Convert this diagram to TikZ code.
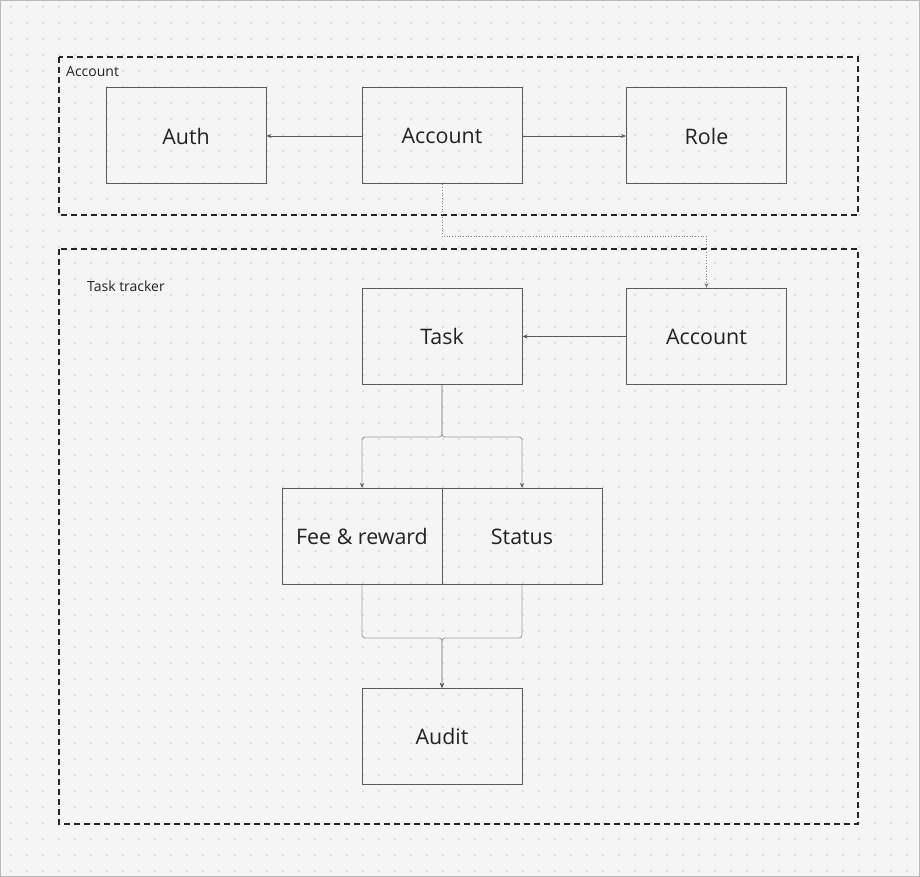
\documentclass[tikz,border=0pt]{standalone}
\usepackage{fontspec}
\setmainfont{Open Sans}
\usetikzlibrary{arrows.meta}
\definecolor{fond}{HTML}{F5F5F5}
\definecolor{point}{HTML}{D2D2D2}
\definecolor{trait}{HTML}{5A5A5A}
\definecolor{branche}{HTML}{A0A0A0}
\definecolor{texte}{HTML}{222222}
\begin{document}
\begin{tikzpicture}[x=1pt,y=-1pt,
    bloc/.style={draw=trait, line width=1pt, minimum width=160pt, minimum height=96pt, inner sep=0pt, text=texte, font=\fontsize{21.4}{25}\selectfont},
    groupe/.style={draw=black!85, line width=1.2pt, dash pattern=on 6pt off 4pt},
    legende/.style={anchor=base west, inner sep=0pt, text=texte, font=\fontsize{14}{16}\selectfont},
    fleche/.style={draw=trait, line width=0.7pt, -{Stealth[length=5pt,width=4pt]}},
    lien/.style={draw=branche, line width=0.9pt, rounded corners=3pt, -{Stealth[length=5pt,width=4pt,color=trait]}}]
    \useasboundingbox (0,0) rectangle (920,877);
    \fill[fond] (0,0) rectangle (920,877);
    % grille de points
    \foreach \i in {11,27,...,907}
    \foreach \j in {7,23,...,871}
    \fill[point] (\i,\j) circle (1pt);
    \draw[gray!55, line width=1pt] (0.5,0.5) rectangle (919.5,876.5);
    % groupes
    \draw[groupe] (59,57) rectangle (858,215);
    \node[legende] (lblAccount) at (66,77) {Account};
    \draw[groupe] (59,249) rectangle (858,824);
    \node[legende] (lblTracker) at (87,291) {Task tracker};
    % blocs
    \node[bloc] (auth) at (186,136) {Auth};
    \node[bloc] (acc) at (442,136) {Account};
    \node[bloc] (role) at (706.5,136) {Role};
    \node[bloc] (task) at (442,336.5) {Task};
    \node[bloc] (acc2) at (706.5,336.5) {Account};
    \node[bloc] (fee) at (362,536.5) {Fee \& reward};
    \node[bloc] (status) at (522,536.5) {Status};
    \node[bloc] (audit) at (442,736.5) {Audit};
    % liens
    \draw[fleche] (acc.west) -- (auth.east);
    \draw[fleche] (acc.east) -- (role.west);
    \draw[fleche, draw=gray, dotted] (acc.south) -- ++(0,52) -| (acc2.north);
    \draw[fleche] (acc2.west) -- (task.east);
    \draw[lien] (task.south) -- ++(0,52) -| (fee.north);
    \draw[lien] (task.south) -- ++(0,52) -| (status.north);
    \draw[lien] (fee.south) -- ++(0,53) -| (audit.north);
    \draw[lien] (status.south) -- ++(0,53) -| (audit.north);
\end{tikzpicture}
\end{document}
